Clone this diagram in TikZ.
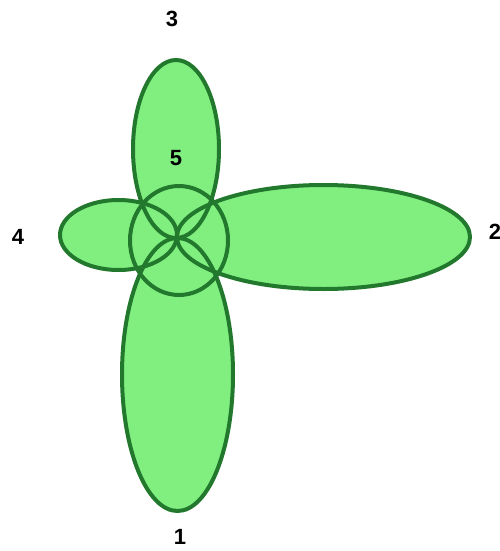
\documentclass[tikz,border=0pt]{standalone}
\usepackage{fontspec}
\setmainfont{Liberation Sans}
\usetikzlibrary{positioning}
\definecolor{PetalFill}{HTML}{80EF80}
\definecolor{PetalLine}{HTML}{22782D}

\begin{document}
\begin{tikzpicture}[x=1pt, y=-1pt,
    petalfill/.style={fill=PetalFill},
    petalline/.style={draw=PetalLine, line width=4pt},
    tag/.style={font=\fontsize{22}{26}\selectfont\bfseries, text=black, inner sep=0pt}]
  \useasboundingbox (0,0) rectangle (500,551);
  % petals: fills first, outlines on top
  \foreach \cx/\cy/\rx/\ry in {176/149/43/89, 177.5/374.5/55.5/136.5,
      323.5/237/146.5/52, 118.5/235/58.5/35, 179/240.5/49/54.5} {
    \fill[petalfill] (\cx,\cy) ellipse [x radius=\rx, y radius=\ry];
  }
  \foreach \cx/\cy/\rx/\ry in {176/149/43/89, 177.5/374.5/55.5/136.5,
      323.5/237/146.5/52, 118.5/235/58.5/35, 179/240.5/49/54.5} {
    \draw[petalline] (\cx,\cy) ellipse [x radius=\rx, y radius=\ry];
  }
  % labels
  \node[tag] (lab3) at (172,19) {3};
  \node[tag] (lab5) at (176,158) {5};
  \node[tag] (lab4) at (18,237) {4};
  \node[tag] (lab2) at (495,232) {2};
  \node[tag] (lab1) at (180,537) {1};
\end{tikzpicture}
\end{document}
